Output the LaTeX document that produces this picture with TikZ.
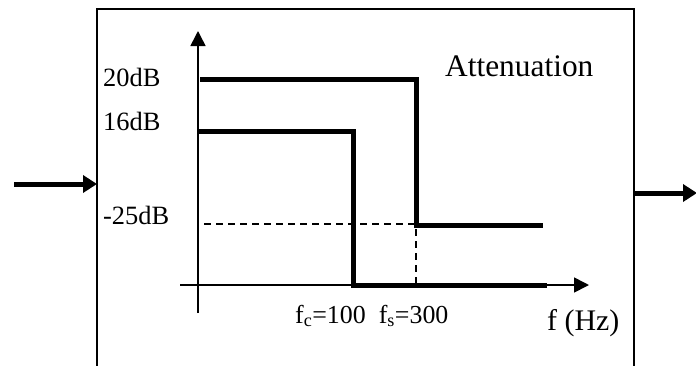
\documentclass[tikz,border=0pt]{standalone}
\usepackage{fontspec}
\setmainfont{Liberation Serif}
\usetikzlibrary{arrows.meta}
\tikzset{
  lbl/.style={anchor=base west, inner sep=0pt, font=\fontsize{26.5}{30}\selectfont},
  thickstep/.style={line width=5bp, line join=miter},
  axis/.style={line width=1.6bp, -{Triangle[length=15bp,width=15bp]}},
  bigarrow/.style={line width=5bp, -{Triangle[length=14bp,width=17bp]}},
  helper/.style={line width=1.3bp, dash pattern=on 7bp off 5bp},
}
\begin{document}
\begin{tikzpicture}[x=1bp,y=-1bp]
\useasboundingbox (0,0) rectangle (696,365);
% box
\draw[line width=1.8bp] (97,366) -- (97,9) -- (634,9) -- (634,366);
% in/out arrows
\coordinate (inS) at (14,184);
\coordinate (inE) at (97,184);
\coordinate (outS) at (634,193);
\coordinate (outE) at (697,193);
\draw[bigarrow] (inS) -- (inE);
\draw[bigarrow] (outS) -- (outE);
% axes
\coordinate (yS) at (198,313);
\coordinate (yE) at (198,31);
\coordinate (xS) at (180,285);
\coordinate (xE) at (589,285);
\draw[axis] (yS) -- (yE);
\draw[axis] (xS) -- (xE);
% dashed helpers
\draw[helper] (204,224) -- (414,224);
\draw[helper] (416,229) -- (416,284);
% step curves
\draw[thickstep] (200,79) -- (416,79) -- (416,225) -- (543,225);
\draw[thickstep] (198,131) -- (353,131) -- (353,285) -- (547,285);
% labels
\node[lbl] (l20) at (103,86) {20dB};
\node[lbl] (l16) at (103,130) {16dB};
\node[lbl] (l25) at (103,224) {-25dB};
\node[lbl, font=\fontsize{31.5}{36}\selectfont] (att) at (445,76) {Attenuation};
\node[lbl, font=\fontsize{26}{30}\selectfont] (fc) at (295,323) {f\textsubscript{c}=100\ \ f\textsubscript{s}=300};
\node[lbl, font=\fontsize{30}{34}\selectfont] (fhz) at (547,330) {f (Hz)};
\end{tikzpicture}
\end{document}
